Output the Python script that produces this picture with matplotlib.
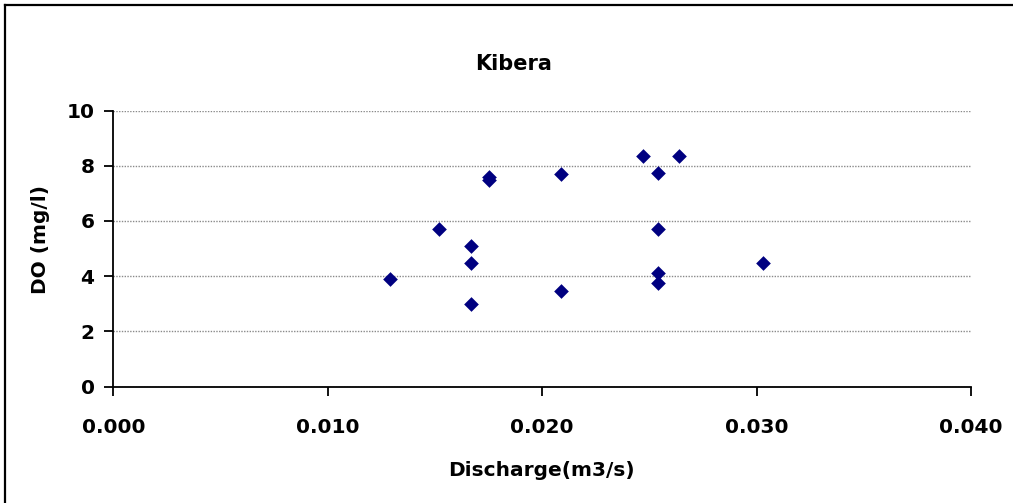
import matplotlib
matplotlib.use("Agg")
import matplotlib.pyplot as plt
from matplotlib.lines import Line2D

discharge = [0.0129, 0.0152, 0.0167, 0.0167, 0.0167, 0.0175, 0.0175,
             0.0209, 0.0209, 0.0247, 0.0264, 0.0254, 0.0254, 0.0254,
             0.0254, 0.0303]
do_mgl = [3.88, 5.70, 5.09, 4.49, 2.99, 7.50, 7.58,
          7.69, 3.46, 8.35, 8.35, 7.75, 5.70, 4.10,
          3.76, 4.49]
xticks = [0.000, 0.010, 0.020, 0.030, 0.040]
yticks = [0, 2, 4, 6, 8, 10]

plt.rcParams['font.family'] = ['DejaVu Sans']
plt.rcParams['font.weight'] = 'bold'

fig = plt.figure(figsize=(10.13, 5.03), dpi=100)
ax = fig.add_axes([0.1118, 0.2316, 0.9585 - 0.1118, 0.7803 - 0.2316])

ax.scatter(discharge, do_mgl, marker='D', s=56, color='#000080', zorder=3,
           linewidths=0)

ax.set_xlim(0, 0.040)
ax.set_ylim(0, 10)
ax.set_xticks(xticks)
ax.set_xticklabels([f"{v:.3f}" for v in xticks])
ax.set_yticks(yticks)
ax.set_yticklabels([str(v) for v in yticks])

for s in ['top', 'right']:
    ax.spines[s].set_visible(False)
for s in ['left', 'bottom']:
    ax.spines[s].set_linewidth(1.3)
    ax.spines[s].set_color('black')

ax.tick_params(axis='both', direction='out', length=6.5, width=1.3,
               labelsize=14.5, colors='black')
ax.tick_params(axis='x', pad=16)
ax.tick_params(axis='y', pad=7)
for lab in ax.get_xticklabels() + ax.get_yticklabels():
    lab.set_fontweight('bold')

ax.yaxis.grid(True, color='#8a8a8a', linewidth=1.0, linestyle=(0, (1, 1)))
ax.set_axisbelow(True)

fig.text(514 / 1013, 1 - 64 / 503, "Kibera", ha='center', va='center',
         fontsize=15, fontweight='bold')
fig.text(541 / 1013, 1 - 470 / 503, "Discharge(m3/s)", ha='center', va='center',
         fontsize=14.5, fontweight='bold')
fig.text(41 / 1013, 1 - 240 / 503, "DO (mg/l)", ha='center', va='center',
         rotation=90, fontsize=14.5, fontweight='bold')

# outer chart border (top and left edges visible)
fig.add_artist(Line2D([5 / 1013, 5 / 1013], [0, 1 - 4.5 / 503],
                      transform=fig.transFigure, color='black', linewidth=1.6))
fig.add_artist(Line2D([5 / 1013, 1], [1 - 4.5 / 503, 1 - 4.5 / 503],
                      transform=fig.transFigure, color='black', linewidth=1.6))

fig.savefig("out.png", dpi=100)
